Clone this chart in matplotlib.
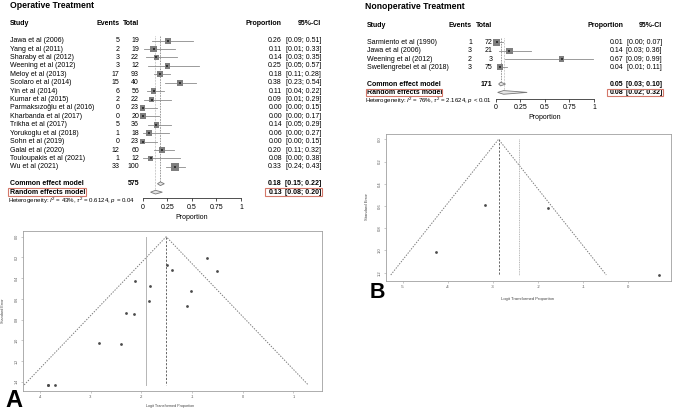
import matplotlib
matplotlib.use("Agg")
import matplotlib.pyplot as plt
from matplotlib.transforms import blended_transform_factory, Affine2D
from matplotlib.patches import Polygon, Rectangle

plt.rcParams['font.family'] = ['Liberation Sans', 'DejaVu Sans']
plt.rcParams['mathtext.fontset'] = 'custom'
plt.rcParams['mathtext.rm'] = 'Liberation Sans'
plt.rcParams['mathtext.it'] = 'Liberation Sans:italic'
plt.rcParams['mathtext.bf'] = 'Liberation Sans:bold'

# ---------------- data: operative treatment ----------------
op_title = "Operative Treatment"
op_studies = ["Jawa et al (2006)", "Yang et al (2011)", "Sharaby et al (2012)",
              "Weening et al (2012)", "Meloy et al (2013)", "Scolaro et al (2014)",
              "Yin et al (2014)", "Kumar et al (2015)", "Parmaksızoğlu et al (2016)",
              "Kharbanda et al (2017)", "Trikha et al (2017)", "Yorukoglu et al (2018)",
              "Sohn et al (2019)", "Galal et al (2020)", "Touloupakis et al (2021)",
              "Wu et al (2021)"]
op_events = [5, 2, 3, 3, 17, 15, 6, 2, 0, 0, 5, 1, 0, 12, 1, 33]
op_totals = [19, 19, 22, 12, 93, 40, 56, 22, 23, 20, 36, 18, 23, 60, 12, 100]
op_prop = [0.26, 0.11, 0.14, 0.25, 0.18, 0.38, 0.11, 0.09, 0.00, 0.00, 0.14, 0.06, 0.00, 0.20, 0.08, 0.33]
op_lo = [0.09, 0.01, 0.03, 0.05, 0.11, 0.23, 0.04, 0.01, 0.00, 0.00, 0.05, 0.00, 0.00, 0.11, 0.00, 0.24]
op_hi = [0.51, 0.33, 0.35, 0.57, 0.28, 0.54, 0.22, 0.29, 0.15, 0.17, 0.29, 0.27, 0.15, 0.32, 0.38, 0.43]
op_weight = [7.1, 7.1, 4.9, 5.5, 6.4, 7.1, 5.5, 4.9, 5.5, 7.1, 6.4, 6.4, 4.9, 7.1, 5.5, 10.5]
op_common = [0.18, 0.15, 0.22]
op_random = [0.13, 0.08, 0.20]
op_n_total = 575
op_het = r"Heterogeneity: $I^2$ = 43%, $\tau^2$ = 0.6124, $p$ = 0.04"
# funnel (logit proportion vs standard error)
op_logit = [-1.03, -2.14, -1.85, -1.10, -1.50, -0.51, -2.12, -2.30, -3.85, -3.71, -1.82, -2.83, -3.85, -1.39, -2.40, -0.71]
op_se = [0.52, 0.75, 0.62, 0.67, 0.27, 0.33, 0.43, 0.74, 1.43, 1.43, 0.48, 1.03, 1.43, 0.32, 1.04, 0.21]
op_center = -1.51
op_rand_center = -1.91

# ---------------- data: nonoperative treatment ----------------
no_title = "Nonoperative Treatment"
no_studies = ["Sarmiento et al (1990)", "Jawa et al (2006)", "Weening et al (2012)",
              "Swellengrebel et al (2018)"]
no_events = [1, 3, 2, 3]
no_totals = [72, 21, 3, 75]
no_prop = [0.01, 0.14, 0.67, 0.04]
no_lo = [0.00, 0.03, 0.09, 0.01]
no_hi = [0.07, 0.36, 0.99, 0.11]
no_weight = [8.9, 7.1, 4.9, 7.1]
no_common = [0.05, 0.03, 0.10]
no_random = [0.08, 0.02, 0.32]
no_n_total = 171
no_het = r"Heterogeneity: $I^2$ = 76%, $\tau^2$ = 2.1624, $p$ < 0.01"
no_logit = [-4.26, -1.79, 0.69, -3.18]
no_se = [1.01, 0.62, 1.22, 0.59]
no_center = -2.88
no_rand_center = -2.42

headers = ["Study", "Events", "Total", "Proportion", "95%-CI"]
prop_ticks = [0, 0.25, 0.5, 0.75, 1]
prop_tick_labels = ["0", "0.25", "0.5", "0.75", "1"]

# ---------------- figure ----------------
W, H = 675, 412
fig = plt.figure(figsize=(W / 100, H / 100), dpi=100)
fig.patch.set_facecolor("white")
pxT = Affine2D().scale(1 / W, -1 / H).translate(0, 1) + fig.transFigure

RED = "#d4786a"
SQ = "#7f7f7f"
FS = 5.0


def draw_forest(L, title, studies, events, totals, prop, lo, hi, wts,
                common, random_, n_total, het):
    x0, x1 = L["ax_x"]
    top, bot = L["ax_y"]
    y0, s = L["row0"], L["step"]

    def row_of(py):
        return 1 + (py - y0) / s

    ax = fig.add_axes([x0 / W, 1 - bot / H, (x1 - x0) / W, (bot - top) / H])
    ax.set_xlim(0, 1)
    ax.set_ylim(row_of(bot), row_of(top))
    ax.patch.set_alpha(0)
    for sp in ["top", "right", "left"]:
        ax.spines[sp].set_visible(False)
    ax.spines["bottom"].set_position(("data", row_of(L["axis_py"])))
    ax.spines["bottom"].set_linewidth(0.6)
    ax.spines["bottom"].set_color("#333333")
    ax.set_yticks([])
    ax.set_xticks(prop_ticks)
    ax.set_xticklabels(prop_tick_labels)
    ax.tick_params(axis="x", direction="out", length=2.0, width=0.6,
                   colors="#333333", labelcolor="black", labelsize=FS, pad=2.2)

    tr = blended_transform_factory(fig.transFigure, ax.transData)
    n = len(studies)
    rows = list(range(1, n + 1))
    r_com, r_ran, r_het = n + 2, n + 3, n + 4
    r_head = -1

    # title and headers
    fig.text(L["title_x"] / W, 1 - L["title_py"] / H, title, fontsize=6.2,
             fontweight="bold", va="center", ha="left")
    hx = [(L["study_x"], "left"), (L["events_r"], "right"), (L["total_r"], "right"),
          (L["prop_r"], "right"), (L["ci_r"], "right")]
    for (x, ha), lab in zip(hx, headers):
        ax.text(x / W, r_head, lab, transform=tr, ha=ha, va="center",
                fontsize=FS, fontweight="bold", clip_on=False)

    # study rows
    for r, st, e, t, p, a, b in zip(rows, studies, events, totals, prop, lo, hi):
        ax.text(L["study_x"] / W, r, st, transform=tr, ha="left", va="center", fontsize=FS)
        ax.text(L["events_r"] / W, r, str(e), transform=tr, ha="right", va="center", fontsize=FS)
        ax.text(L["total_r"] / W, r, str(t), transform=tr, ha="right", va="center", fontsize=FS)
        ax.text(L["prop_r"] / W, r, f"{p:.2f}", transform=tr, ha="right", va="center", fontsize=FS)
        ax.text(L["ci_r"] / W, r, f"[{a:.2f}; {b:.2f}]", transform=tr, ha="right",
                va="center", fontsize=FS)
        ax.plot([a, b], [r, r], color="#8a8a8a", lw=0.6, clip_on=False, zorder=2)

    sizes = [(2.3 * w ** 0.5 * 0.72) ** 2 for w in wts]
    ax.scatter(prop, rows, s=sizes, marker="s", color=SQ, linewidths=0,
               clip_on=False, zorder=3)
    ax.scatter(prop, rows, s=0.6, marker="s", color="#333333", linewidths=0,
               clip_on=False, zorder=4)

    # summary rows
    for r, (est, a, b), lab in [(r_com, common, "Common effect model"),
                                (r_ran, random_, "Random effects model")]:
        ax.text(L["study_x"] / W, r, lab, transform=tr, ha="left", va="center",
                fontsize=FS, fontweight="bold")
        ax.text(L["prop_r"] / W, r, f"{est:.2f}", transform=tr, ha="right",
                va="center", fontsize=FS, fontweight="bold")
        ax.text(L["ci_r"] / W, r, f"[{a:.2f}; {b:.2f}]", transform=tr, ha="right",
                va="center", fontsize=FS, fontweight="bold")
        hh = 0.22
        ax.add_patch(Polygon([[a, r], [est, r - hh], [b, r], [est, r + hh]],
                             closed=True, facecolor="#e6e6e6", edgecolor="#777777",
                             lw=0.6, clip_on=False, zorder=3))
    ax.text(L["total_r"] / W, r_com, str(n_total), transform=tr, ha="right",
            va="center", fontsize=FS, fontweight="bold")

    # reference lines
    ax.plot([common[0]] * 2, [0.5, r_com - 0.25], color="#8c8c8c", lw=0.6,
            ls=(0, (2.0, 1.2)), clip_on=False, zorder=1)
    ax.plot([random_[0]] * 2, [0.5, r_ran - 0.25], color="#a8a8a8", lw=0.6,
            ls=(0, (0.8, 1.0)), clip_on=False, zorder=1)

    # heterogeneity
    ax.text(L["het_x"] / W, r_het, het, transform=tr, ha="left", va="center",
            fontsize=4.45)
    # x label
    fig.text((x0 + x1) / 2 / W, 1 - L["xlab_py"] / H, "Proportion",
             fontsize=FS, ha="center", va="center")

    # red highlight boxes around the random-effects row
    py_r = y0 + (r_ran - 1) * s
    for bx0, bx1 in L["boxes"]:
        fig.patches.append(Rectangle((bx0, py_r - 3.7), bx1 - bx0, 7.6,
                                     transform=pxT, fill=False, ec=RED, lw=0.8))
    return ax


def draw_funnel(L, logit, se, center, rcenter, xticks, yticks):
    x0, y0, x1, y1 = L["box"]
    ax = fig.add_axes([x0 / W, 1 - y1 / H, (x1 - x0) / W, (y1 - y0) / H])
    ax.set_xlim(*L["xlim"])
    ax.set_ylim(*L["ylim"])
    for sp in ax.spines.values():
        sp.set_color("#a0a0a0")
        sp.set_linewidth(0.6)
    semax = max(se)
    ax.plot([center - 1.96 * semax, center, center + 1.96 * semax], [semax, 0, semax],
            color="#7a7a7a", lw=0.7, ls=(0, (1.4, 1.4)))
    ax.plot([center, center], [0, semax], color="#666666", lw=0.7, ls=(0, (2.2, 1.6)))
    ax.plot([rcenter, rcenter], [0, semax], color="#b5b5b5", lw=0.7, ls=L["rls"])
    ax.plot(logit, se, "o", ms=2.0, color="#4a4a4a", mew=0)
    ax.set_xticks(xticks)
    ax.set_xticklabels([f"{v:g}" for v in xticks])
    ax.set_yticks(yticks)
    ax.set_yticklabels([f"{v:.1f}" for v in yticks], rotation=90, va="center")
    ax.tick_params(direction="out", length=1.6, width=0.4, colors="#a0a0a0",
                   labelcolor="#555555", labelsize=L["fs"], pad=1.5)
    fig.text(L["xlab"][0] / W, 1 - L["xlab"][1] / H, "Logit Transformed Proportion",
             fontsize=L["fs"], ha="center", va="center", color="#444444")
    fig.text(L["ylab"][0] / W, 1 - L["ylab"][1] / H, "Standard Error",
             fontsize=L["fs"], ha="center", va="center", rotation=90, color="#444444")
    return ax


LA = dict(ax_x=(142.7, 241.0), ax_y=(20, 230), row0=40.6, step=8.42,
          axis_py=198.3, title_x=10, title_py=6, study_x=10, events_r=119.5,
          total_r=139, prop_r=282, ci_r=321, het_x=7.5, xlab_py=217.5,
          boxes=[(8.3, 86.0), (265.0, 321.8)])
LB = dict(ax_x=(495.7, 594.0), ax_y=(20, 130), row0=42.3, step=8.35,
          axis_py=98.5, title_x=365, title_py=6.5, study_x=367, events_r=472,
          total_r=492.5, prop_r=623, ci_r=662, het_x=365, xlab_py=117.5,
          boxes=[(366.0, 441.7), (606.5, 662.8)])

draw_forest(LA, op_title, op_studies, op_events, op_totals, op_prop, op_lo, op_hi,
            op_weight, op_common, op_random, op_n_total, op_het)
draw_forest(LB, no_title, no_studies, no_events, no_totals, no_prop, no_lo, no_hi,
            no_weight, no_common, no_random, no_n_total, no_het)

FA = dict(box=(23, 231, 322, 391), xlim=(-4.336, 1.565), ylim=(1.489, -0.055),
          fs=2.7, xlab=(170, 406.5), ylab=(3.5, 311), rls="-")
FB = dict(box=(385.7, 134, 671, 280.7), xlim=(-5.384, 0.948), ylim=(1.272, -0.048),
          fs=3.0, xlab=(528, 299.3), ylab=(367, 207), rls=(0, (1.0, 0.8)))
draw_funnel(FA, op_logit, op_se, op_center, op_rand_center,
            [-4, -3, -2, -1, 0, 1], [0.0, 0.2, 0.4, 0.6, 0.8, 1.0, 1.2, 1.4])
draw_funnel(FB, no_logit, no_se, no_center, no_rand_center,
            [-5, -4, -3, -2, -1, 0], [0.0, 0.2, 0.4, 0.6, 0.8, 1.0, 1.2])

fig.text(5 / W, 1 - 407 / H, "A", fontsize=17, fontweight="bold", va="baseline", ha="left")
fig.text(370 / W, 1 - 298 / H, "B", fontsize=15.5, fontweight="bold", va="baseline", ha="left")

fig.savefig("out.png", dpi=100, facecolor="white")
